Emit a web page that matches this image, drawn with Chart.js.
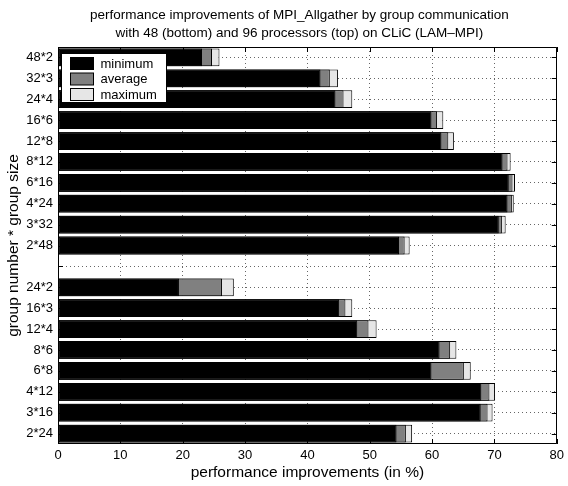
<!DOCTYPE html>
<html><head><meta charset="utf-8">
<script src="https://cdn.jsdelivr.net/npm/chart.js@4.4.0/dist/chart.umd.min.js"></script>
<style>html,body{margin:0;padding:0;background:#fff;}canvas{display:block;}</style>
</head><body>
<canvas id="c" width="568" height="486"></canvas>
<script>
const categories = ['48*2','32*3','24*4','16*6','12*8','8*12','6*16','4*24','3*32','2*48','','24*2','16*3','12*4','8*6','6*8','4*12','3*16','2*24'];
const minimumValues = [23.1,42.1,44.5,59.9,61.5,71.3,72.3,72.1,70.7,54.7,null,19.4,45.1,48.0,61.2,59.9,67.9,67.8,54.3];
const averageValues = [24.7,43.6,45.8,60.8,62.6,72.1,72.9,72.8,71.2,55.6,null,26.3,46.1,49.8,62.9,65.1,69.2,68.9,55.8];
const maximumValues = [25.9,44.9,47.2,61.8,63.5,72.6,73.3,73.1,71.8,56.4,null,28.2,47.2,51.1,63.9,66.2,70.1,69.7,56.8];
const xTickValues = [0,10,20,30,40,50,60,70,80];
const seriesNames = ['minimum','average','maximum'];
const titleLines = ['performance improvements of MPI_Allgather by group communication','with 48 (bottom) and 96 processors (top) on CLiC (LAM\u2013MPI)'];
const xAxisTitle = 'performance improvements (in %)';
const yAxisTitle = 'group number * group size';

const FONT = "'Liberation Sans', Arial, Helvetica, sans-serif";
Chart.defaults.font.family = FONT;
Chart.defaults.color = '#000';

const decorPlugin = {
  id: 'decor',
  afterDatasetsDraw(chart) {
    const ctx = chart.ctx, a = chart.chartArea;
    const xs = chart.scales.x, ys = chart.scales.y;
    ctx.save();
    ctx.strokeStyle = '#000';
    ctx.lineWidth = 1;
    ctx.beginPath();
    ctx.rect(Math.round(a.left) + 0.5, Math.round(a.top) + 0.5, Math.round(a.right - a.left) - 1, Math.round(a.bottom - a.top) - 1);
    ctx.stroke();
    const tl = 5;
    ctx.beginPath();
    xTickValues.forEach(v => {
      const px = Math.round(xs.getPixelForValue(v)) + 0.5;
      ctx.moveTo(px, a.top); ctx.lineTo(px, a.top + tl);
      ctx.moveTo(px, a.bottom); ctx.lineTo(px, a.bottom - tl);
    });
    categories.forEach((c, i) => {
      const py = Math.round(ys.getPixelForValue(i)) + 0.5;
      ctx.moveTo(a.left, py); ctx.lineTo(a.left + tl, py);
      ctx.moveTo(a.right, py); ctx.lineTo(a.right - tl, py);
    });
    ctx.stroke();

    // legend box
    const lx = a.left + 3.5, ly = a.top + 6.5, lw = 105, lh = 49;
    ctx.fillStyle = '#fff';
    ctx.fillRect(lx, ly, lw, lh);
    ctx.strokeRect(lx, ly, lw, lh);
    ctx.font = '13px ' + FONT;
    ctx.textBaseline = 'middle';
    ctx.textAlign = 'left';
    chart.data.datasets.forEach((ds, i) => {
      const ry = ly + 4 + i * 15.5;
      ctx.fillStyle = ds.backgroundColor;
      ctx.fillRect(lx + 9, ry, 23, 12);
      ctx.strokeRect(lx + 9, ry, 23, 12);
      ctx.fillStyle = '#000';
      ctx.fillText(ds.label, lx + 39, ry + 6.5);
    });

    // title
    ctx.font = '13.5px ' + FONT;
    ctx.textAlign = 'center';
    const cx = (a.left + a.right) / 2 - 8;
    titleLines.forEach((t, i) => ctx.fillText(t, cx, 15 + i * 18));
    ctx.restore();
  }
};

new Chart(document.getElementById('c'), {
  type: 'bar',
  data: {
    labels: categories,
    datasets: [
      { label: seriesNames[0], data: minimumValues, backgroundColor: '#000000' },
      { label: seriesNames[1], data: averageValues, backgroundColor: '#808080' },
      { label: seriesNames[2], data: maximumValues, backgroundColor: '#e6e6e6' }
    ]
  },
  options: {
    indexAxis: 'y',
    responsive: false,
    animation: false,
    devicePixelRatio: 1,
    layout: { padding: { top: 47, right: 8, left: 0, bottom: 0 } },
    datasets: {
      bar: {
        grouped: false,
        barPercentage: 0.85,
        categoryPercentage: 1,
        borderWidth: 1,
        borderColor: '#000',
        borderSkipped: false
      }
    },
    plugins: { legend: { display: false }, title: { display: false }, tooltip: { enabled: false } },
    scales: {
      x: {
        type: 'linear', min: 0, max: 80,
        afterBuildTicks: s => { s.ticks = xTickValues.map(v => ({ value: v })); },
        afterFit: s => { s.height = 42; },
        ticks: { font: { size: 13 }, color: '#000', padding: 4, maxRotation: 0 },
        grid: { color: '#666', lineWidth: 1, drawTicks: false },
        border: { display: false, dash: [1, 3] },
        title: { display: true, text: xAxisTitle, font: { size: 15.5 }, color: '#000', padding: { top: 0, bottom: 4 } }
      },
      y: {
        type: 'category',
        afterFit: s => { s.width = 58; },
        ticks: { font: { size: 13 }, color: '#000', padding: 5, autoSkip: false },
        grid: { color: '#666', lineWidth: 1, drawTicks: false, offset: false },
        border: { display: false, dash: [1, 3] },
        title: { display: true, text: yAxisTitle, font: { size: 15.5 }, color: '#000', padding: { top: 4, bottom: 0 } }
      }
    }
  },
  plugins: [decorPlugin]
});
</script>
</body></html>
